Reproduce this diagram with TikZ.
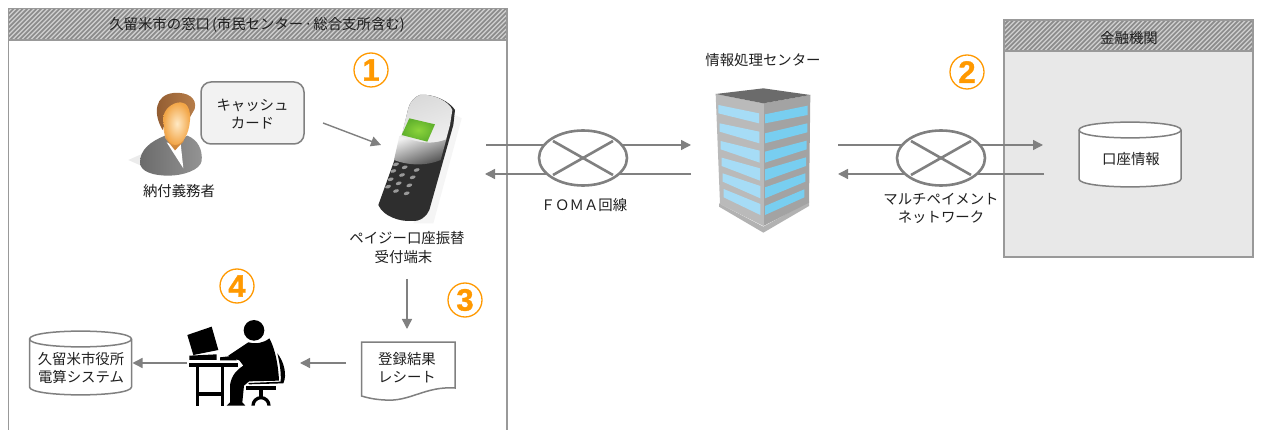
\documentclass[tikz,border=0pt]{standalone}
\usepackage{fontspec}
\setmainfont{Noto Sans CJK JP}
\newfontfamily\numfont[BoldFeatures={FakeBold=1.2}]{Liberation Sans}
\usetikzlibrary{arrows.meta,shapes.geometric,calc}
\definecolor{lineg}{HTML}{808080}
\definecolor{frameg}{HTML}{999999}
\definecolor{orangenum}{HTML}{FF9900}
\definecolor{winl}{HTML}{A6DCF6}
\definecolor{winr}{HTML}{78CEF0}
\definecolor{hairA}{HTML}{B97F4A}
\definecolor{hairB}{HTML}{8F5A30}
\definecolor{faceA}{HTML}{FFE9C4}
\definecolor{faceB}{HTML}{F2A546}
\definecolor{neckA}{HTML}{F5B56A}
\definecolor{neckB}{HTML}{C97E2E}
\definecolor{scrA}{HTML}{8CD43C}
\definecolor{scrB}{HTML}{5FB02C}
\tikzset{
  lbl/.style={inner sep=0pt,align=center,text=black!88,font=\fontsize{14.4}{17.5}\selectfont},
  conn/.style={draw=lineg,line width=1.4pt},
  arr/.style={conn,-{Triangle[length=10pt,width=10pt]}},
  framebox/.style={draw=frameg,line width=1.5pt},
  nummark/.style={circle,draw=orangenum,line width=1.3pt,minimum size=34pt,inner sep=0pt,text=orangenum,font=\numfont\bfseries\fontsize{31}{33}\selectfont},
  net/.style={ellipse,draw=lineg,fill=white,line width=2.6pt,minimum width=88pt,minimum height=55pt,inner sep=0pt},
  netx/.style={draw=lineg,line width=2.6pt},
  dbline/.style={draw=lineg,line width=1.5pt,fill=white}
}
\newcommand{\hatchbox}[4]{%
  \fill[fill=black!18] (#1,#2) rectangle (#3,#4);
  \begin{scope}
    \clip (#1,#2) rectangle (#3,#4);
    \foreach \hx in {0,2.3,...,280}{
      \draw[color=black!45,line width=1.7pt] ({#1+\hx*2-40},#4) -- ({#1+\hx*2-40+#4-#2},#2);
    }
  \end{scope}
}
\newcommand{\dbshape}[4]{% x0 x1 top bottom
  \path[dbline] (#1,{#3+8}) .. controls (#1,{#3-2.5}) and (#2,{#3-2.5}) .. (#2,{#3+8})
    -- (#2,{#4-8}) .. controls (#2,{#4+2.5}) and (#1,{#4+2.5}) .. (#1,{#4-8}) -- cycle;
  \draw[draw=lineg,line width=1.5pt] (#1,{#3+8}) .. controls (#1,{#3+18.5}) and (#2,{#3+18.5}) .. (#2,{#3+8});
}
\begin{document}
\begin{tikzpicture}[x=1pt,y=-1pt]
\useasboundingbox (0,0) rectangle (1261,430);
\fill[white] (0,0) rectangle (1261,430);

% left frame
\hatchbox{8.5}{8.5}{507}{40}
\draw[framebox] (8.5,430) -- (8.5,8.5) -- (507,8.5) -- (507,430);
\draw[framebox] (8.5,40) -- (507,40);
\node[lbl] (hdrL) at (257,25) {久留米市の窓口\hspace{2pt}(市民センター\hspace{1pt}·\hspace{1pt}総合支所含む)};

% right frame
\fill[fill=black!9] (1004,51) rectangle (1253,257);
\hatchbox{1004}{20}{1253}{51}
\draw[framebox] (1004,20) rectangle (1253,257);
\draw[framebox] (1004,51) -- (1253,51);
\node[lbl] (hdrR) at (1129,38) {金融機関};

% person
\begin{scope}[shift={(130,85)},scale=1/3]
  \fill[black!8] (-5,225) -- (40,205) -- (40,245) -- cycle;
  \path[left color=black!58,right color=black!42] (30,232) .. controls (30,195) and (60,170) .. (105,152)
     -- (135,172) -- (172,152) .. controls (205,165) and (218,195) .. (215,228)
     .. controls (210,255) and (160,272) .. (115,272) .. controls (70,272) and (30,260) .. (30,232) -- cycle;
  \fill[white] (110,172) -- (135,182) -- (152,176) -- (160,250) -- cycle;
  \path[top color=neckA,bottom color=neckB] (100,130) -- (106,160) -- (135,196) -- (160,170) -- (170,130) -- cycle;
  \path[left color=hairB,right color=hairA] (98,135) .. controls (68,85) and (75,30) .. (130,24)
     .. controls (175,20) and (202,40) .. (194,72) -- (178,100) -- (110,100) -- cycle;
  \path[inner color=faceA,outer color=faceB]
     (100,100) .. controls (100,75) and (125,52) .. (152,52) .. controls (172,52) and (182,75) .. (180,105)
     .. controls (177,150) and (157,180) .. (135,180) .. controls (112,180) and (100,135) .. (100,100) -- cycle;
\end{scope}
\node[lbl] (payer) at (179,191) {納付義務者};

% card
\node[draw=lineg,line width=1.5pt,fill=black!5,rounded corners=10pt,minimum width=103pt,minimum height=62pt,inner sep=0pt] (card) at (252.5,113) {};
\node[lbl] (cardtxt) at (252.5,114) {キャッシュ\\カード};

% phone
\begin{scope}[shift={(370,85)},scale=1/3]
  \fill[black!4] (255,90) -- (275,100) -- (190,415) -- (130,415) -- cycle;
  \path[fill=black!82] (150,30) .. controls (190,25) and (240,50) .. (255,75) -- (250,120)
     -- (178,375) .. controls (170,395) and (150,410) .. (125,408) .. controls (90,410) and (40,395) .. (25,360) -- (70,235) -- (95,155) -- (115,70) .. controls (120,50) and (135,35) .. (150,30) -- cycle;
  \path[top color=black!15,bottom color=black!6,shading angle=20] (150,30) .. controls (190,25) and (238,50) .. (247,75) -- (240,120)
     -- (228,165) .. controls (180,185) and (130,170) .. (88,155) -- (95,150) -- (115,70) .. controls (120,50) and (135,35) .. (150,30) -- cycle;
  \path[top color=black!6,bottom color=black!72,shading angle=20] (88,153) .. controls (130,168) and (180,183) .. (229,163)
     -- (212,225) .. controls (165,245) and (110,240) .. (72,225) -- cycle;
  \path[inner color=scrA,outer color=scrB] (118,100) -- (195,118) -- (172,170) -- (95,150) -- cycle;
  \foreach \bx/\by in {78/238,104/247,140/255,70/258,96/270,128/277,62/283,86/295,118/301,54/305,78/318,110/325}{
    \fill[black!40,rotate around={18:(\bx,\by)}] (\bx,\by) ellipse (9 and 5);
  }
\end{scope}
\node[lbl] (termA) at (407,238) {ペイジー口座振替};
\node[lbl] (termB) at (403.5,257) {受付端末};

% building
\begin{scope}[shift={(705,80)},scale=1/3]
  \fill[black!30] (42,370) -- (175,440) -- (312,365) -- (312,378) -- (175,458) -- (42,380) -- cycle;
  \fill[black!27] (32,42) -- (175,70) -- (175,438) -- (45,372) -- cycle;
  \fill[black!36] (175,70) -- (316,45) -- (312,368) -- (175,438) -- cycle;
  \fill[black!58] (32,42) -- (175,25) -- (316,45) -- (175,70) -- cycle;
  \fill[winl] (40,75) -- (162,100) -- (162,130) -- (40,100) -- cycle;
  \fill[winl] (44,130) -- (163,155) -- (163,190) -- (44,155) -- cycle;
  \fill[winl] (47,183) -- (164,212) -- (164,248) -- (47,208) -- cycle;
  \fill[winl] (50,233) -- (165,265) -- (165,302) -- (50,258) -- cycle;
  \fill[winl] (53,280) -- (166,318) -- (166,355) -- (53,305) -- cycle;
  \fill[winl] (56,327) -- (166,372) -- (166,405) -- (56,352) -- cycle;
  \fill[winr] (180,103) -- (308,77) -- (308,105) -- (180,130) -- cycle;
  \fill[winr] (180,160) -- (307,130) -- (307,157) -- (180,190) -- cycle;
  \fill[winr] (180,215) -- (305,182) -- (305,208) -- (180,248) -- cycle;
  \fill[winr] (180,268) -- (303,232) -- (303,258) -- (180,302) -- cycle;
  \fill[winr] (180,322) -- (301,280) -- (301,305) -- (180,355) -- cycle;
  \fill[winr] (180,378) -- (298,328) -- (298,352) -- (180,405) -- cycle;
\end{scope}
\node[lbl] (center) at (763,60) {情報処理センター};

% connector end points
\coordinate (cardOut) at (323,123);
\coordinate (phoneIn) at (381,145);
\coordinate (phoneE1) at (486,145);
\coordinate (phoneE2) at (485,174);
\coordinate (bldW1) at (691,145);
\coordinate (bldW2) at (691,174);
\coordinate (bldE1) at (838,145);
\coordinate (bldE2) at (838,174);
\coordinate (bankW1) at (1043,145);
\coordinate (bankW2) at (1044,174);
\coordinate (termS) at (407,279);
\coordinate (rcptN) at (407,329);
\coordinate (rcptW) at (346,363);
\coordinate (clerkE) at (300,363);
\coordinate (clerkW) at (187,363);
\coordinate (dbE) at (132.5,363);

\draw[arr] (cardOut) -- (phoneIn);
\draw[arr] (phoneE1) -- (bldW1);
\draw[arr] (bldW2) -- (phoneE2);
\draw[arr] (bldE1) -- (bankW1);
\draw[arr] (bankW2) -- (bldE2);
\draw[arr] (termS) -- (rcptN);
\draw[arr] (rcptW) -- (clerkE);
\draw[arr] (clerkW) -- (dbE);

% networks
\node[net] (foma) at (583,158) {};
\draw[netx] ($(foma.center)+(-30,-17)$) -- ($(foma.center)+(30,17)$);
\draw[netx] ($(foma.center)+(-30,17)$) -- ($(foma.center)+(30,-17)$);
\node[lbl] (fomatxt) at (584,205) {ＦＯＭＡ回線};
\node[net] (mpn) at (941,158) {};
\draw[netx] ($(mpn.center)+(-30,-17)$) -- ($(mpn.center)+(30,17)$);
\draw[netx] ($(mpn.center)+(-30,17)$) -- ($(mpn.center)+(30,-17)$);
\node[lbl] (mpntxt) at (941,208.5) {マルチペイメント\\ネットワーク};

% databases
\dbshape{1079}{1181}{122}{187}
\node[lbl] (acct) at (1131,159) {口座情報};
\dbshape{29.5}{131.5}{331}{395}
\node[lbl] (city) at (81,368) {久留米市役所\\電算システム};

% receipt
\path[draw=lineg,line width=1.5pt,fill=white] (361.5,342) -- (455,342) -- (455,388)
  .. controls (425,386) and (410,402) .. (385,400) .. controls (375,399.5) and (368,398) .. (361.5,396) -- cycle;
\node[lbl] (rcpt) at (407,367.5) {登録結果\\レシート};

% clerk
\begin{scope}[shift={(180,315)},scale=1/3]
  \fill[black] (22,60) -- (95,35) -- (115,105) -- (40,120) -- cycle;
  \fill[black] (28,122) -- (110,118) -- (110,135) -- (28,135) -- cycle;
  \fill[black] (120,127) -- (165,122) -- (170,136) -- (120,136) -- cycle;
  \fill[black] (28,145) rectangle (175,156);
  \fill[black] (47,156) rectangle (58,272);
  \fill[black] (122,156) rectangle (133,272);
  \fill[black] (47,232) rectangle (133,243);
  \fill[black] (145,122) -- (205,82) .. controls (225,88) and (250,85) .. (268,70)
     .. controls (285,100) and (295,150) .. (297,197) -- (207,199) -- (192,212) -- (187,262) -- (196,272) -- (140,272) -- (150,262)
     -- (150,210) .. controls (155,180) and (170,165) .. (190,152) -- (178,136) -- (150,128) -- cycle;
  \draw[white,line width=1.5pt] (202,72) .. controls (220,85) and (250,80) .. (268,62);
  \fill[black] (222,46) circle (31);
  \fill[black] (292,115) .. controls (312,140) and (322,180) .. (310,205) -- (207,208) -- (205,204) -- (302,200) .. controls (304,170) and (298,140) .. (292,115) -- cycle;
  \fill[black] (198,212) rectangle (288,225);
  \fill[black] (237,225) rectangle (250,246);
  \fill[black] (214,272) arc[start angle=180,end angle=360,radius=29] -- (262,272) arc[start angle=360,end angle=180,radius=19] -- cycle;
\end{scope}

% numbers
\node[nummark] (n1) at (371,70) {1};
\node[nummark] (n2) at (967,72) {2};
\node[nummark] (n3) at (465,300) {3};
\node[nummark] (n4) at (237,286) {4};
\end{tikzpicture}
\end{document}
